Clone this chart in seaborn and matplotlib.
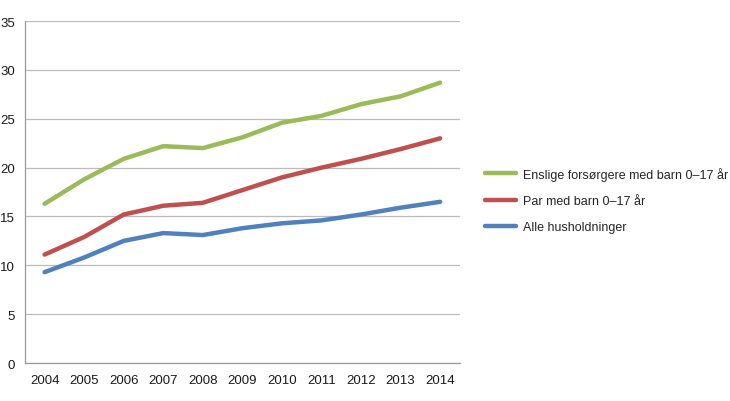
import matplotlib
matplotlib.use("Agg")
import matplotlib.pyplot as plt
import seaborn as sns
import pandas as pd
import numpy as np

years = ["2004", "2005", "2006", "2007", "2008", "2009", "2010", "2011", "2012", "2013", "2014"]
enslige = [16.3, 18.8, 20.9, 22.2, 22.0, 23.1, 24.6, 25.3, 26.5, 27.3, 28.7]
par = [11.1, 12.9, 15.2, 16.1, 16.4, 17.7, 19.0, 20.0, 20.9, 21.9, 23.0]
alle = [9.3, 10.8, 12.5, 13.3, 13.1, 13.8, 14.3, 14.6, 15.2, 15.9, 16.5]
series_names = ["Enslige forsørgere med barn 0–17 år", "Par med barn 0–17 år", "Alle husholdninger"]
colors = ["#9BBB59", "#C0504D", "#4F81BD"]

sns.set_style("white")
plt.rcParams['font.family'] = ['Liberation Sans', 'DejaVu Sans']

df = pd.DataFrame({
    "year": years * 3,
    "x": list(range(len(years))) * 3,
    "value": enslige + par + alle,
    "series": [series_names[0]] * len(years) + [series_names[1]] * len(years) + [series_names[2]] * len(years),
})

fig = plt.figure(figsize=(7.3, 4.02), dpi=100)
ax = fig.add_axes([0.034, 0.0945, 0.596, 0.8505])
sns.lineplot(data=df, x="x", y="value", hue="series", palette=colors,
             hue_order=series_names, linewidth=3.2, ax=ax, legend=True)

ax.set_xlim(-0.5, len(years) - 0.5)
ax.set_ylim(0, 35)
ax.set_yticks(range(0, 36, 5))
ax.set_xticks(range(len(years)))
ax.set_xticklabels(years)
ax.set_xticks(np.arange(-0.5, len(years), 1.0), minor=True)
ax.tick_params(axis="x", which="major", length=0, labelsize=9.5, pad=8, labelcolor="#1a1a1a")
ax.tick_params(axis="x", which="minor", length=4, color="#999999", width=0.8, direction="out")
ax.tick_params(axis="y", which="major", length=4, color="#999999", width=0.8, labelsize=9.5, pad=3, labelcolor="#1a1a1a")
ax.grid(axis="y", color="#BBBBBB", linewidth=0.9)
ax.set_axisbelow(True)
for s in ["top", "right"]:
    ax.spines[s].set_visible(False)
for s in ["left", "bottom"]:
    ax.spines[s].set_color("#999999")
    ax.spines[s].set_linewidth(0.9)
ax.set_xlabel("")
ax.set_ylabel("")

handles, labels = ax.get_legend_handles_labels()
fig.legend(handles, labels, loc="center left", bbox_to_anchor=(0.657, 0.5), frameon=False,
           fontsize=9.0, handlelength=2.5, labelspacing=1.15, handletextpad=0.55, borderaxespad=0)
if ax.get_legend() is not None:
    ax.get_legend().remove()

fig.savefig("out.png", dpi=100)
